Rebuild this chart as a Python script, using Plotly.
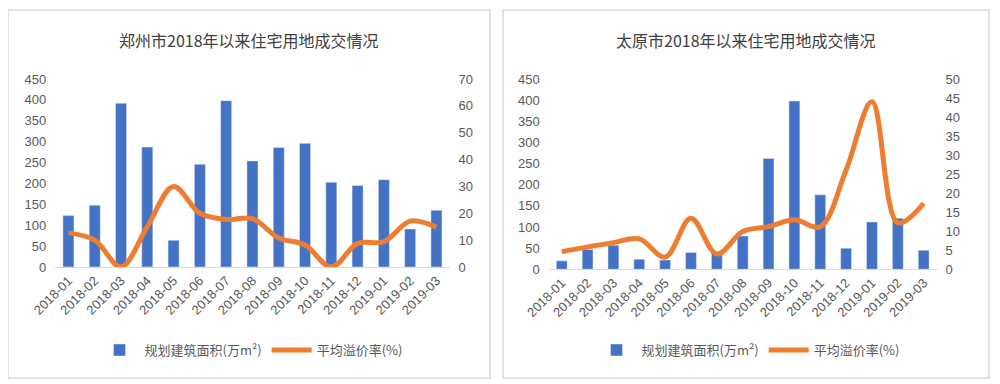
import plotly.graph_objects as go

months = ["2018-01", "2018-02", "2018-03", "2018-04", "2018-05", "2018-06", "2018-07",
          "2018-08", "2018-09", "2018-10", "2018-11", "2018-12", "2019-01", "2019-02", "2019-03"]

zz_area = [123, 148, 392, 287, 64, 246, 398, 254, 286, 296, 203, 195, 209, 91, 136]
zz_premium = [12.7, 10, 0, 15, 30, 20, 17.7, 18, 10.8, 8.2, 0, 8.8, 9.4, 17.1, 14.8]

ty_area = [20, 47, 57, 24, 22, 40, 37, 79, 262, 398, 176, 50, 112, 121, 45]
ty_premium = [4.6, 5.9, 7.0, 8.0, 3.2, 13.4, 4.0, 9.9, 11.2, 13.0, 11.2, 26.1, 44.0, 12.2, 17.3]

title_zz = "郑州市2018年以来住宅用地成交情况"
title_ty = "太原市2018年以来住宅用地成交情况"
name_area = "规划建筑面积(万m²)"
name_prem = "平均溢价率(%)"

BLUE = "#4472C4"
ORANGE = "#ED7D31"
TXT = "#595959"
FONT = "Liberation Sans, Noto Sans CJK SC, sans-serif"
CJK = "Noto Sans CJK SC, sans-serif"

# page body has an 8px margin: figure drawn offset by 8px
OFF = 8
W, H = 992, 376
def px(x): return (x - OFF) / W
def py(y): return 1 - (y - OFF) / H

fig = go.Figure()
fig.add_trace(go.Bar(x=months, y=zz_area, name=name_area, marker_color=BLUE,
                     xaxis="x", yaxis="y", legend="legend"))
fig.add_trace(go.Scatter(x=months, y=zz_premium, name=name_prem, mode="lines",
                         line=dict(color=ORANGE, width=5, shape="spline", smoothing=1),
                         xaxis="x", yaxis="y2", legend="legend"))
fig.add_trace(go.Bar(x=months, y=ty_area, name=name_area, marker_color=BLUE,
                     xaxis="x2", yaxis="y3", legend="legend2"))
fig.add_trace(go.Scatter(x=months, y=ty_premium, name=name_prem, mode="lines",
                         line=dict(color=ORANGE, width=5, shape="spline", smoothing=1),
                         xaxis="x2", yaxis="y4", legend="legend2"))

tickfont = dict(family=FONT, size=13, color=TXT)
xcommon = dict(type="category", tickangle=-45, tickfont=dict(family=FONT, size=13, color=TXT),
               showline=True, linecolor="#D9D9D9", linewidth=1, showgrid=False, ticks="",
               zeroline=False, automargin=False)
ycommon = dict(showgrid=False, zeroline=False, showline=False, ticks="", tickfont=tickfont,
               ticklabelstandoff=8, automargin=False)

fig.update_layout(
    width=W, height=H, margin=dict(l=0, r=0, t=0, b=0, autoexpand=False),
    paper_bgcolor="white", plot_bgcolor="white",
    bargap=0.58, showlegend=True,
    xaxis=dict(domain=[px(55.3), px(449.6)], anchor="y", **xcommon),
    yaxis=dict(domain=[py(267), py(79)], range=[0, 450], dtick=50, anchor="x", **ycommon),
    yaxis2=dict(domain=[py(267), py(79)], range=[0, 70], dtick=10, overlaying="y", side="right",
                anchor="x", **ycommon),
    xaxis2=dict(domain=[px(548.8), px(936.6)], anchor="y3", **xcommon),
    yaxis3=dict(domain=[py(269.3), py(79)], range=[0, 450], dtick=50, anchor="x2", **ycommon),
    yaxis4=dict(domain=[py(269.3), py(79)], range=[0, 50], dtick=5, overlaying="y3", side="right",
                anchor="x2", **ycommon),
    legend=dict(orientation="h", x=px(251), y=py(350), xanchor="center", yanchor="middle",
                font=dict(family=CJK, size=13, color=TXT), bgcolor="rgba(0,0,0,0)", itemwidth=40),
    legend2=dict(orientation="h", x=px(748), y=py(350), xanchor="center", yanchor="middle",
                 font=dict(family=CJK, size=13, color=TXT), bgcolor="rgba(0,0,0,0)", itemwidth=40),
    shapes=[
        dict(type="rect", xref="paper", yref="paper", x0=px(8), x1=px(490), y0=py(378), y1=py(10),
             line=dict(color="#D9D9D9", width=1.5), fillcolor="rgba(0,0,0,0)", layer="below"),
        dict(type="rect", xref="paper", yref="paper", x0=px(503), x1=px(989), y0=py(378), y1=py(10),
             line=dict(color="#D9D9D9", width=1.5), fillcolor="rgba(0,0,0,0)", layer="below"),
    ],
    annotations=[
        dict(text=title_zz, xref="paper", yref="paper", x=px(248.5), y=py(40), showarrow=False,
             xanchor="center", yanchor="middle", font=dict(family=CJK, size=16, color="#404040")),
        dict(text=title_ty, xref="paper", yref="paper", x=px(745.5), y=py(40), showarrow=False,
             xanchor="center", yanchor="middle", font=dict(family=CJK, size=16, color="#404040")),
    ],
)

fig.write_html("out.html")
